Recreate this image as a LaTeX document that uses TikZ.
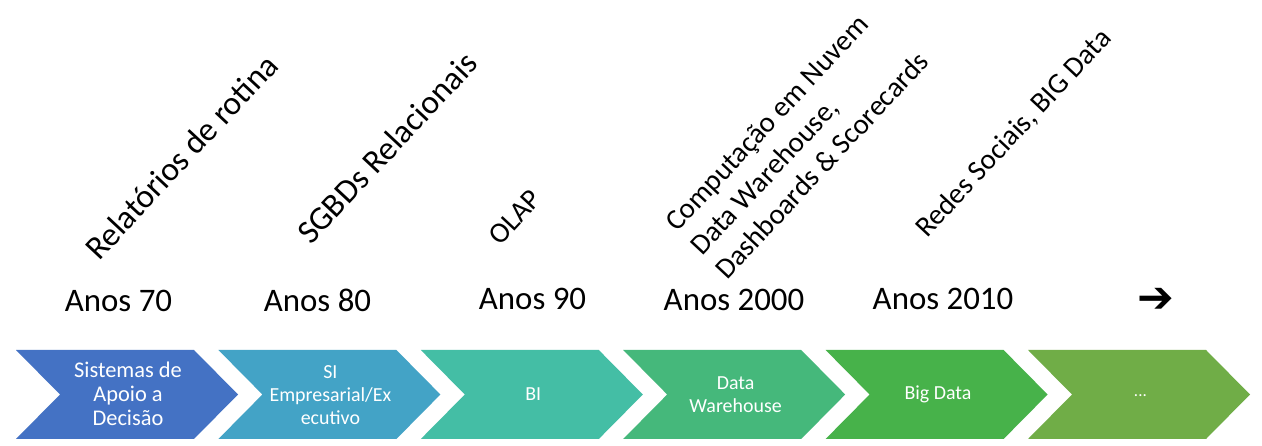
\documentclass[tikz,border=0pt]{standalone}
\usepackage{fontspec}
\setmainfont{Carlito}
\newfontfamily\arrowfont{DejaVu Sans}
\definecolor{cA}{HTML}{4472C4}
\definecolor{cB}{HTML}{43A3C6}
\definecolor{cC}{HTML}{44BEA5}
\definecolor{cD}{HTML}{45B87B}
\definecolor{cE}{HTML}{47B24A}
\definecolor{cF}{HTML}{70AD47}
\newcommand\chevshape[2]{\fill[#2] (#1,350) -- ++(178,0) -- ++(44,44.5) -- ++(-44,44.5) -- ++(-178,0) -- ++(44,-44.5) -- cycle;}
\begin{document}
\begin{tikzpicture}[x=1bp,y=-1bp,
  chevtxt/.style={text=white, align=center, inner sep=0pt, font=\fontsize{20}{23}\selectfont},
  yeartxt/.style={anchor=base, inner sep=0pt, font=\fontsize{33}{36}\selectfont},
  slanttxt/.style={anchor=base west, inner sep=0pt, rotate=47, font=\fontsize{33.5}{36}\selectfont},
  slantsmall/.style={slanttxt, font=\fontsize{29}{33}\selectfont}]
\useasboundingbox (0,0) rectangle (1262,446);
\fill[white] (0,0) rectangle (1262,446);
% chevrons
\chevshape{16}{cA}
\chevshape{218.4}{cB}
\chevshape{420.8}{cC}
\chevshape{623.2}{cD}
\chevshape{825.6}{cE}
\chevshape{1028}{cF}
\node[chevtxt, font=\fontsize{22.5}{24}\selectfont] (s1) at (128,394) {Sistemas de\\Apoio a\\Decisão};
\node[chevtxt] (s2) at (330.4,395) {SI\\Empresarial/Ex\\ecutivo};
\node[chevtxt] (s3) at (533.2,394) {BI};
\node[chevtxt] (s4) at (735.6,395) {Data\\Warehouse};
\node[chevtxt] (s5) at (938,394) {Big Data};
\node[chevtxt, font=\fontsize{17}{20}\selectfont] (s6) at (1140.4,396) {...};
% years
\node[yeartxt] (y1) at (118.5,312) {Anos 70};
\node[yeartxt] (y2) at (317.5,312) {Anos 80};
\node[yeartxt] (y3) at (532.5,310) {Anos 90};
\node[yeartxt] (y4) at (734,311) {Anos 2000};
\node[yeartxt] (y5) at (943,310) {Anos 2010};
\node[inner sep=0pt, font=\arrowfont\bfseries\fontsize{44}{48}\selectfont] (y6) at (1156,300) {➔};
% slanted labels
\node[slanttxt] (t1) at (99,262) {Relatórios de rotina};
\node[slanttxt] (t2) at (311,246) {SGBDs Relacionais};
\node[slantsmall] (t3) at (500,247) {OLAP};
\node[slantsmall] (t4a) at (677,233) {Computação em Nuvem};
\node[slantsmall] (t4b) at (702,257) {Data Warehouse,};
\node[slantsmall] (t4c) at (727,281) {Dashboards \& Scorecards};
\node[slantsmall] (t5) at (927,239) {Redes Sociais, BIG Data};
\end{tikzpicture}
\end{document}
